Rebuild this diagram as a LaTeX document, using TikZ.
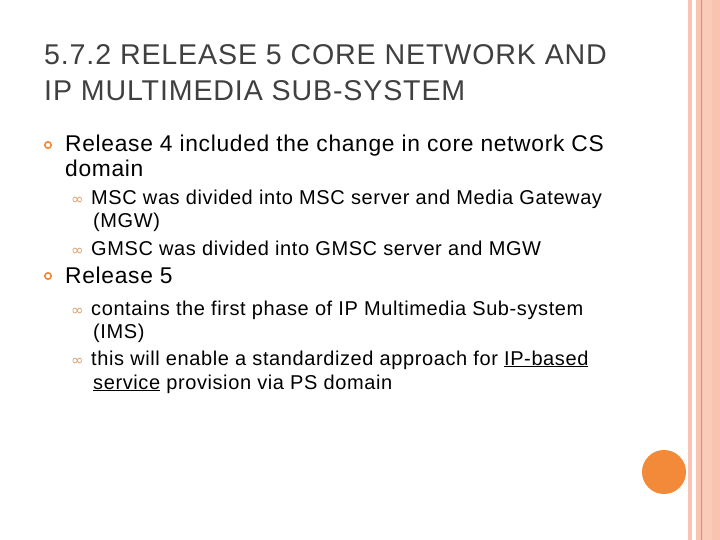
\documentclass[tikz,border=0pt]{standalone}
\usepackage{fontspec}
\setmainfont{Liberation Sans}[LetterSpace=3]
\newfontfamily\symf{DejaVu Sans}
\definecolor{ttl}{HTML}{404040}
\definecolor{pinkA}{HTML}{F8C3B0}
\definecolor{pinkB}{HTML}{FACBB8}
\definecolor{orline}{HTML}{E0906C}
\definecolor{orb}{HTML}{F28A3A}
\definecolor{sub}{HTML}{D8A070}
\begin{document}
\begin{tikzpicture}[x=1pt,y=-1pt,
 t/.style={anchor=base west,inner sep=0pt,text=black},
 ti/.style={t,font=\fontsize{28.6}{30}\selectfont,text=ttl},
 la/.style={t,font=\fontsize{22.8}{24}\selectfont},
 lb/.style={t,font=\fontsize{20}{21}\selectfont},
 sb/.style={anchor=base west,inner sep=0pt,text=sub,font=\symf\fontsize{15}{16}\selectfont}]
\fill[white] (0,0) rectangle (720,540);
\useasboundingbox (0,0) rectangle (720,540);
\fill[pinkA] (688,0) rectangle (692,540);
\fill[pinkA] (696,0) rectangle (720,540);
\fill[pinkB] (703,0) rectangle (712,540);
\draw[orline,line width=0.8] (701,0) -- (701,540);
\fill[orb] (664,472) circle (22);
\node[ti] (t1) at (44,65) {5.7.2 RELEASE 5 CORE NETWORK AND};
\node[ti] (t2) at (44,101) {IP MULTIMEDIA SUB-SYSTEM};
\draw[orb,line width=1.6] (48,145) circle (3.2);
\node[la] (a1) at (65,152) {Release 4 included the change in core network CS};
\node[la] (a2) at (65,177) {domain};
\node[sb] (s1) at (71,205) {∞};
\node[lb] (b1) at (91,205) {MSC was divided into MSC server and Media Gateway};
\node[lb] (b2) at (93,228) {(MGW)};
\node[sb] (s2) at (71,255) {∞};
\node[lb] (b3) at (91,255) {GMSC was divided into GMSC server and MGW};
\draw[orb,line width=1.6] (48,276) circle (3.2);
\node[la] (a3) at (65,283) {Release 5};
\node[sb] (s3) at (71,315) {∞};
\node[lb] (b4) at (91,315) {contains the first phase of IP Multimedia Sub-system};
\node[lb] (b5) at (93,338) {(IMS)};
\node[sb] (s4) at (71,365) {∞};
\node[lb] (b6) at (91,365) {this will enable a standardized approach for \underline{IP-based}};
\node[lb] (b7) at (93,389) {\underline{service} provision via PS domain};
\end{tikzpicture}
\end{document}
